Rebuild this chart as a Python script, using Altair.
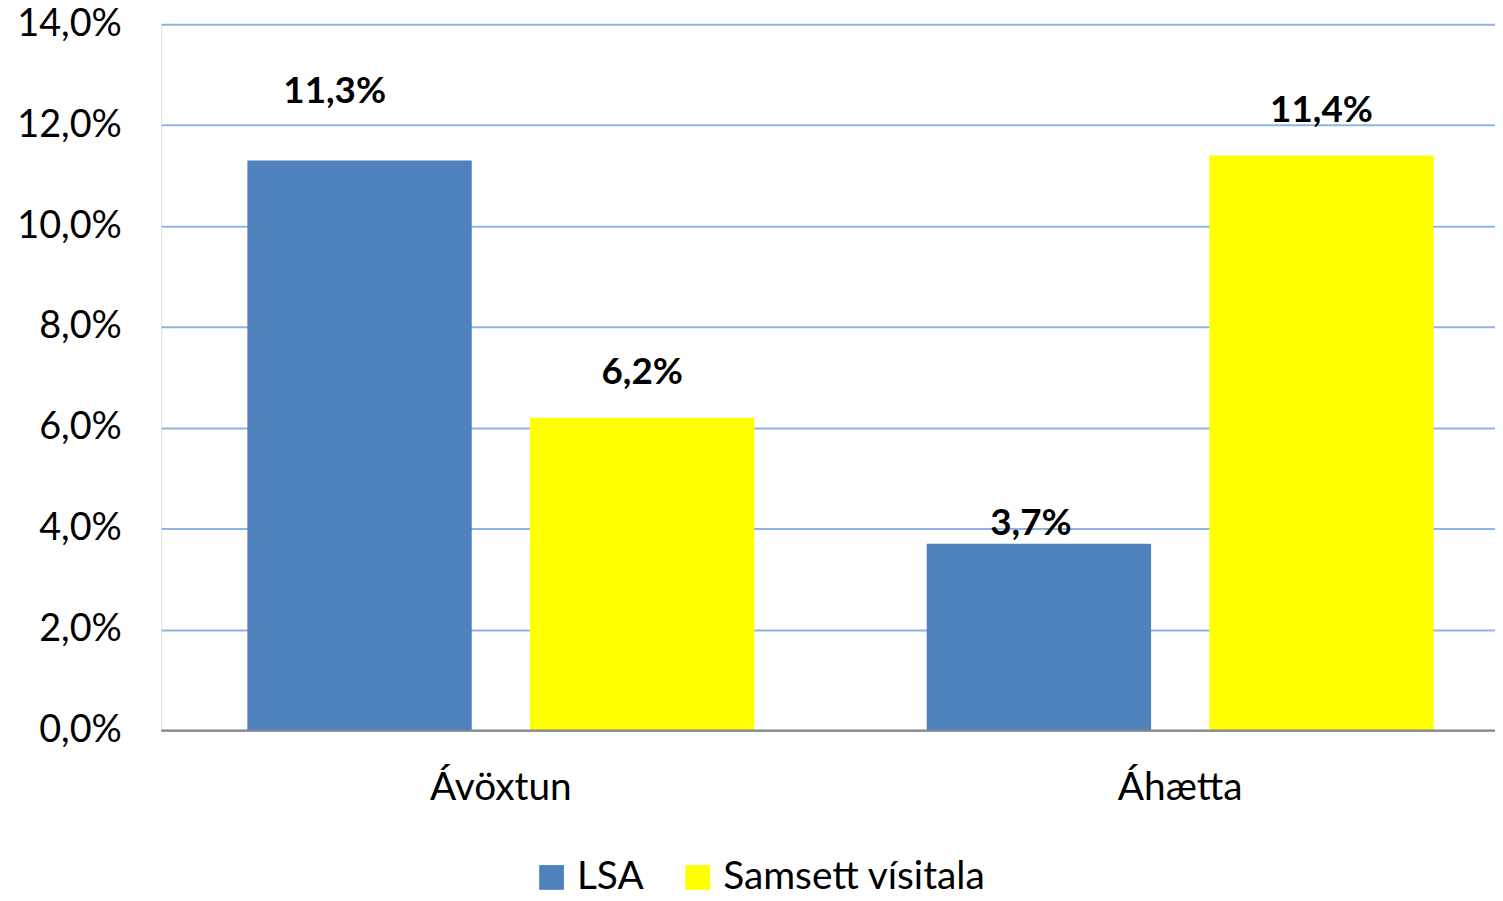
import altair as alt
import pandas as pd

categories = ["Ávöxtun", "Ávöxtun", "Áhætta", "Áhætta"]
series = ["LSA", "Samsett vísitala", "LSA", "Samsett vísitala"]
values = [11.3, 6.2, 3.7, 11.4]
y_ticks = [0, 2, 4, 6, 8, 10, 12, 14]

df = pd.DataFrame({"cat": categories, "series": series, "value": values})

FONT = "Lato"
cat_order = ["Ávöxtun", "Áhætta"]
ser_order = ["LSA", "Samsett vísitala"]
colors = ["#4F81BD", "#FFFF00"]

base = alt.Chart(df).transform_calculate(
    label="replace(format(datum.value, '.1f'), '.', ',') + '%'"
)

x_enc = alt.X("cat:N", sort=cat_order, title=None,
              scale=alt.Scale(paddingInner=0, paddingOuter=0, range=[0, 1366]),
              axis=alt.Axis(labelFontSize=39, labelFont=FONT, labelColor="#000000",
                            labelPadding=38, ticks=False, domain=False, labelAngle=0))
xo_enc = alt.XOffset("series:N", sort=ser_order,
                     scale=alt.Scale(paddingInner=0.206, paddingOuter=0.305))
y_enc = alt.Y("value:Q", title=None,
              scale=alt.Scale(domain=[0, 14], nice=False),
              axis=alt.Axis(values=y_ticks, labelFontSize=38, labelFont=FONT,
                            labelColor="#000000", labelPadding=40, ticks=False,
                            domain=False, gridColor="#8EB4E3", gridWidth=2,
                            labelExpr="replace(format(datum.value, '.1f'), '.', ',') + '%'"))

bars = base.mark_bar().encode(
    x=x_enc, xOffset=xo_enc, y=y_enc,
    color=alt.Color("series:N", sort=ser_order,
                    scale=alt.Scale(domain=ser_order, range=colors),
                    legend=alt.Legend(title=None, orient="none", direction="horizontal",
                                      legendX=373, legendY=838,
                                      symbolType="square", symbolSize=620,
                                      symbolStrokeWidth=0, labelFontSize=39,
                                      labelFont=FONT, labelColor="#000000",
                                      labelLimit=0, columnPadding=34, labelOffset=6)),
)

zero = alt.Chart(pd.DataFrame({"z": [0]})).mark_rule(color="#868686", strokeWidth=2).encode(
    y=alt.Y("z:Q", scale=alt.Scale(domain=[0, 14], nice=False))
)

text_common = dict(fontSize=37, fontWeight="bold", font=FONT, color="#000000",
                   baseline="middle", align="center")

t_main = base.transform_filter(
    "datum.series == 'Samsett vísitala'"
).mark_text(dy=-45, **text_common).encode(x=x_enc, xOffset=xo_enc, y=y_enc, text="label:N")

t_a = base.transform_filter(
    "datum.cat == 'Ávöxtun' && datum.series == 'LSA'"
).mark_text(dy=-69, dx=-25, **text_common).encode(x=x_enc, xOffset=xo_enc, y=y_enc, text="label:N")

t_b = base.transform_filter(
    "datum.cat == 'Áhætta' && datum.series == 'LSA'"
).mark_text(dy=-20, dx=-8, **text_common).encode(x=x_enc, xOffset=xo_enc, y=y_enc, text="label:N")

chart = alt.layer(bars, zero, t_main, t_a, t_b).properties(
    width=1341, height=710,
    autosize=alt.AutoSizeParams(type="none"),
    padding={"left": 154, "top": 14, "right": 0, "bottom": 161},
).configure_view(stroke=None).configure(background="#FFFFFF")

chart.save("out.html", embed_options={"renderer": "svg", "actions": False})
